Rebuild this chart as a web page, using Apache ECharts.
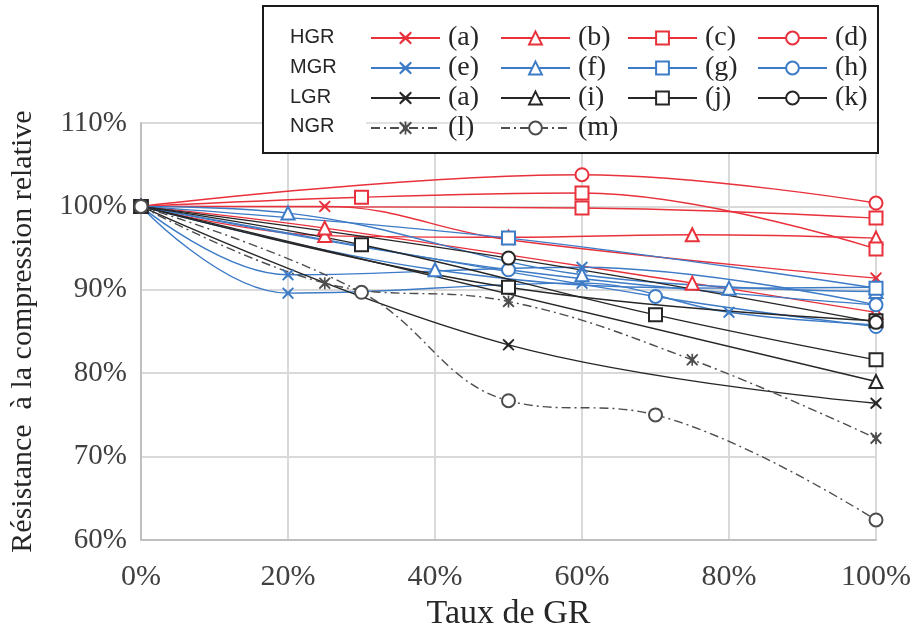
<!DOCTYPE html>
<html>
<head>
<meta charset="utf-8">
<script src="https://cdn.jsdelivr.net/npm/echarts@6/dist/echarts.min.js"></script>
<style>
  html, body { margin: 0; padding: 0; background: #fff; }
  #chart { width: 913px; height: 630px; }
</style>
</head>
<body>
<div id="chart"></div>
<script>
// Axis ticks (percent)
const xTicks = [0, 20, 40, 60, 80, 100];
const yTicks = [60, 70, 80, 90, 100, 110];

// HGR (red) — [GR rate %, relative compressive strength %]
const hgrA  = [[0, 100], [25, 100], [50, 96.0], [100, 91.4]];
const hgrB1 = [[0, 100], [25, 96.5], [50, 96.3], [75, 96.6], [100, 96.2]];
const hgrB2 = [[0, 100], [25, 97.4], [75, 90.8], [100, 87.3]];
const hgrC1 = [[0, 100], [30, 101.1], [60, 101.6], [100, 94.9]];
const hgrC2 = [[0, 100], [60, 99.8], [100, 98.6]];
const hgrD  = [[0, 100], [60, 103.8], [100, 100.4]];

// MGR (blue)
const mgrE1 = [[0, 100], [20, 91.8], [60, 92.7], [100, 88.2]];
const mgrE2 = [[0, 100], [20, 89.6], [60, 90.8], [80, 87.3], [100, 85.8]];
const mgrF1 = [[0, 100], [20, 99.2], [60, 91.8], [100, 89.8]];
const mgrF2 = [[0, 100], [40, 92.4], [80, 90.2], [100, 90.3]];
const mgrG  = [[0, 100], [50, 96.2], [100, 90.2]];
const mgrH1 = [[0, 100], [50, 92.4], [100, 88.2]];
const mgrH2 = [[0, 100], [70, 89.2], [100, 85.6]];

// LGR (black)
const lgrA  = [[0, 100], [50, 83.4], [100, 76.4]];
const lgrI  = [[0, 100], [100, 79.0]];
const lgrJ1 = [[0, 100], [30, 95.4], [70, 87.0], [100, 81.6]];
const lgrJ2 = [[0, 100], [50, 90.3], [100, 86.3]];
const lgrK  = [[0, 100], [50, 93.8], [100, 86.1]];

// NGR (dash-dot)
const ngrL  = [[0, 100], [25, 90.8], [50, 88.6], [75, 81.6], [100, 72.2]];
const ngrM  = [[0, 100], [30, 89.7], [50, 76.7], [70, 75.0], [100, 62.4]];

// Legend layout: one column per marker shape, rows HGR / MGR / LGR / NGR
const rowLabels = ['HGR', 'MGR', 'LGR', 'NGR'];
const legendCols = [
  ['HGR (a)', 'MGR (e)', 'LGR (a)', 'NGR (l)'],
  ['HGR (b)', 'MGR (f)', 'LGR (i)', 'NGR (m)'],
  ['HGR (c)', 'MGR (g)', 'LGR (j)'],
  ['HGR (d)', 'MGR (h)', 'LGR (k)']
];

const RED = '#e8313b';
const BLUE = '#3d7bc6';
const BLACK = '#262626';
const GREY = '#4d4d4d';

const SYM_X = 'path://M1,0L5,3.6L9,0L10,1L6.4,5L10,9L9,10L5,6.4L1,10L0,9L3.6,5L0,1Z';
const SYM_STAR = 'path://M1,0L5,3.6L9,0L10,1L6.4,5L10,9L9,10L5,6.4L1,10L0,9L3.6,5L0,1Z' +
                 'M4.3,0L5.7,0L5.7,10L4.3,10Z';

function line(name, data, color, symbol, dashed) {
  const filled = symbol.indexOf('path://') === 0;
  return {
    name: name,
    type: 'line',
    data: data,
    smooth: 0.4,
    symbol: symbol,
    symbolSize: filled ? 12 : 13,
    lineStyle: { color: color, width: 1.4, type: dashed ? [9, 4, 2, 4] : 'solid' },
    itemStyle: { color: color, borderColor: color, borderWidth: filled ? 0 : 2 },
    emphasis: { disabled: true },
    animation: false
  };
}

const series = [
  line('HGR (a)', hgrA,  RED, SYM_X),
  line('HGR (b)', hgrB1, RED, 'emptyTriangle'),
  line('HGR (b)', hgrB2, RED, 'emptyTriangle'),
  line('HGR (c)', hgrC1, RED, 'emptyRect'),
  line('HGR (c)', hgrC2, RED, 'emptyRect'),
  line('HGR (d)', hgrD,  RED, 'emptyCircle'),

  line('MGR (e)', mgrE1, BLUE, SYM_X),
  line('MGR (e)', mgrE2, BLUE, SYM_X),
  line('MGR (f)', mgrF1, BLUE, 'emptyTriangle'),
  line('MGR (f)', mgrF2, BLUE, 'emptyTriangle'),
  line('MGR (g)', mgrG,  BLUE, 'emptyRect'),
  line('MGR (h)', mgrH1, BLUE, 'emptyCircle'),
  line('MGR (h)', mgrH2, BLUE, 'emptyCircle'),

  line('LGR (a)', lgrA,  BLACK, SYM_X),
  line('LGR (i)', lgrI,  BLACK, 'emptyTriangle'),
  line('LGR (j)', lgrJ1, BLACK, 'emptyRect'),
  line('LGR (j)', lgrJ2, BLACK, 'emptyRect'),
  line('LGR (k)', lgrK,  BLACK, 'emptyCircle'),

  line('NGR (l)', ngrL,  GREY, SYM_STAR, true),
  line('NGR (m)', ngrM,  GREY, 'emptyCircle', true)
];

const colLeft = [370, 500, 627, 757];
const legends = legendCols.map((names, i) => ({
  data: names,
  orient: 'vertical',
  left: colLeft[i],
  top: 24,
  padding: 0,
  itemWidth: 69,
  itemHeight: 16,
  itemGap: 2,
  selectedMode: false,
  z: 6,
  formatter: n => n.split(' ')[1],
  textStyle: { fontFamily: 'Liberation Serif', fontSize: 28, color: '#262626', padding: [0, 0, 0, 3] }
}));

const rowY = [38, 68, 98, 127];
const graphics = [
  {
    type: 'rect', z: 5,
    shape: { x: 263, y: 6, width: 615, height: 147 },
    style: { fill: '#fff', stroke: '#1a1a1a', lineWidth: 2 }
  },
  {
    type: 'line', z: 5,
    shape: { x1: 366, y1: 123, x2: 877, y2: 123 },
    style: { stroke: '#d9d9d9', lineWidth: 1.5 }
  }
].concat(rowLabels.map((t, i) => ({
  type: 'text', z: 7, left: 290, top: rowY[i] - 11,
  style: { text: t, fontFamily: 'Liberation Sans', fontSize: 20, fill: '#262626' }
})));

const chart = echarts.init(document.getElementById('chart'), null, { renderer: 'canvas' });
chart.setOption({
  animation: false,
  backgroundColor: '#fff',
  grid: { left: 141, right: 37, top: 123, bottom: 90, containLabel: false, outerBoundsMode: 'none' },
  xAxis: {
    type: 'value',
    min: xTicks[0], max: xTicks[xTicks.length - 1], interval: xTicks[1] - xTicks[0],
    name: 'Taux de GR',
    nameLocation: 'middle',
    nameGap: 50,
    nameTextStyle: { fontFamily: 'Liberation Serif', fontSize: 34, color: '#262626' },
    axisLine: { show: true, lineStyle: { color: '#bfbfbf', width: 2 } },
    axisTick: { show: false },
    splitLine: { show: true, lineStyle: { color: '#d9d9d9', width: 2 } },
    axisLabel: { formatter: '{value}%', margin: 22, fontFamily: 'Liberation Serif', fontSize: 30, color: '#404040' }
  },
  yAxis: {
    type: 'value',
    min: yTicks[0], max: yTicks[yTicks.length - 1], interval: yTicks[1] - yTicks[0],
    name: 'Résistance  à la compression relative',
    nameLocation: 'middle',
    nameRotate: 90,
    nameGap: 103,
    nameTextStyle: { fontFamily: 'Liberation Serif', fontSize: 30, color: '#262626' },
    axisLine: { show: true, lineStyle: { color: '#bfbfbf', width: 2 } },
    axisTick: { show: false },
    splitLine: { show: true, lineStyle: { color: '#d9d9d9', width: 2 } },
    axisLabel: { formatter: '{value}%', margin: 14, fontFamily: 'Liberation Serif', fontSize: 29, color: '#404040' }
  },
  legend: legends,
  graphic: graphics,
  series: series
});
</script>
</body>
</html>
